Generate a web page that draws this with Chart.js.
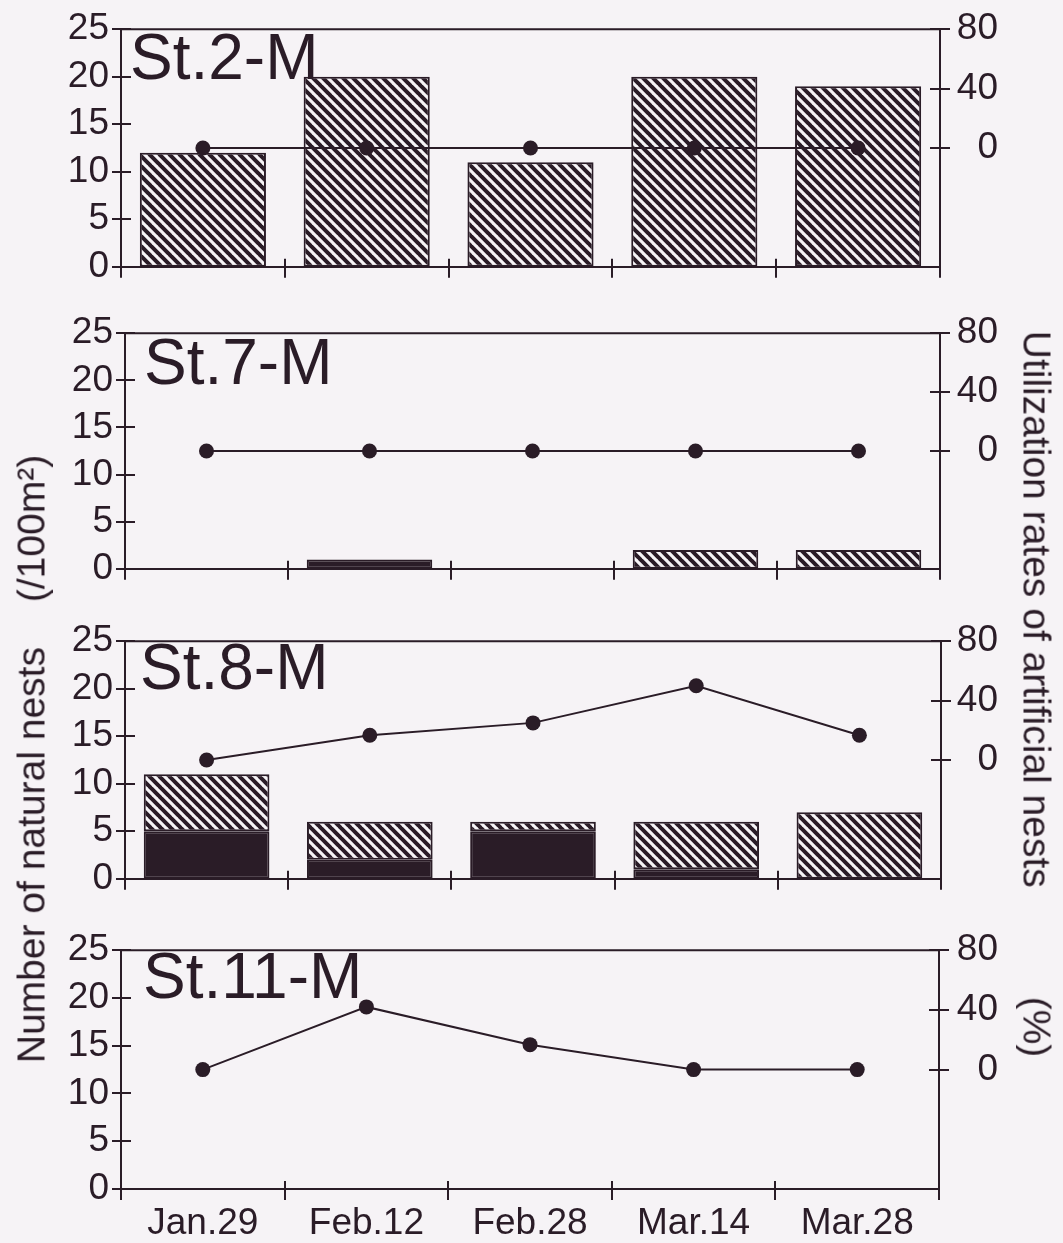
<!DOCTYPE html>
<html><head><meta charset="utf-8">
<script src="https://cdn.jsdelivr.net/npm/chart.js@4/dist/chart.umd.min.js"></script>
<style>
html,body{margin:0;padding:0;background:#f6f3f6;width:1063px;height:1243px;overflow:hidden;}
canvas{position:absolute;left:0;}
.t{position:absolute;font-family:"Liberation Sans",Arial,sans-serif;font-size:39px;color:#2a1c27;white-space:nowrap;line-height:1;}
</style></head><body>
<canvas id="c0"></canvas>
<canvas id="c1"></canvas>
<canvas id="c2"></canvas>
<canvas id="c3"></canvas>
<div class="t" style="left:31px;top:759px;transform:translate(-50%,-50%) rotate(-90deg);">Number of natural nests <span style="display:inline-block;width:34px"></span>(/100m²)</div>
<div class="t" style="left:1037px;top:694px;transform:translate(-50%,-50%) rotate(90deg);">Utilization rates  of artificial nests <span style="display:inline-block;width:98px"></span>(%)</div>
<script>
// ---- data ----
const categories = ['Jan.29', 'Feb.12', 'Feb.28', 'Mar.14', 'Mar.28'];
const panelTitles = ['St.2-M', 'St.7-M', 'St.8-M', 'St.11-M'];
const leftTickStep = 5;   // natural nests axis 0..25
const rightTickLabels = [0, 40, 80]; // utilization axis labels

// natural nests (/100m2): solid (black) part and hatched part
const st2Solid   = [0, 0, 0, 0, 0];
const st2Hatched = [12, 20, 11, 20, 19];
const st7Solid   = [0, 1, 0, 0, 0];
const st7Hatched = [0, 0, 0, 2, 2];
const st8Solid   = [5, 2, 5, 1, 0];
const st8Hatched = [6, 4, 1, 5, 7];
const st11Solid   = [0, 0, 0, 0, 0];
const st11Hatched = [0, 0, 0, 0, 0];

// utilization rates of artificial nests (%)
const st2Rate  = [0, 0, 0, 0, 0];
const st7Rate  = [0, 0, 0, 0, 0];
const st8Rate  = [0, 16.7, 25, 50, 16.7];
const st11Rate = [0, 42, 16.7, 0, 0];

// ---- style / layout ----
const INK = '#2a1c27', BG = '#f6f3f6';
const FONT = '"Liberation Sans", Arial, sans-serif';
const W = 1063, PADT = 30, PADB = 30, PADR = 65, XH = 62;

const panels = [
  {id:'c0', title:panelTitles[0], solid:st2Solid,  hatched:st2Hatched,  rate:st2Rate,  top:25,  h:246, left:121, right:940, tdx:9,  tdy:50, showX:false},
  {id:'c1', title:panelTitles[1], solid:st7Solid,  hatched:st7Hatched,  rate:st7Rate,  top:329, h:244, left:125, right:940, tdx:19, tdy:51, showX:false},
  {id:'c2', title:panelTitles[2], solid:st8Solid,  hatched:st8Hatched,  rate:st8Rate,  top:637, h:246, left:125, right:941, tdx:15, tdy:48, showX:false},
  {id:'c3', title:panelTitles[3], solid:st11Solid, hatched:st11Hatched, rate:st11Rate, top:946, h:243, left:121, right:939, tdx:22, tdy:48, showX:true}
];

function makeHatch(ctx) {
  const P = 10;
  const c = document.createElement('canvas');
  c.width = P; c.height = P;
  const g = c.getContext('2d');
  g.fillStyle = BG; g.fillRect(0, 0, P, P);
  g.strokeStyle = INK; g.lineWidth = 4;
  g.beginPath();
  for (let k = -1; k <= 1; k++) { g.moveTo(k * P - 1, -1); g.lineTo(k * P + P + 1, P + 1); }
  g.stroke();
  return ctx.createPattern(c, 'repeat');
}

const frameTicks = {
  id: 'frameTicks',
  afterDraw(chart, args, opts) {
    const {ctx, chartArea: a, scales} = chart;
    ctx.save();
    ctx.strokeStyle = INK; ctx.lineWidth = 2;
    ctx.beginPath();
    ctx.moveTo(a.left, a.top); ctx.lineTo(a.right, a.top);
    scales.y.ticks.forEach(t => {
      const py = Math.round(scales.y.getPixelForValue(t.value));
      ctx.moveTo(a.left - 9, py); ctx.lineTo(a.left + 10, py);
    });
    scales.y2.ticks.forEach(t => {
      const py = Math.round(scales.y2.getPixelForValue(t.value));
      ctx.moveTo(a.right - 10, py); ctx.lineTo(a.right + 10, py);
    });
    const n = scales.x.ticks.length;
    for (let i = 0; i <= n; i++) {
      const px = Math.round(scales.x.getPixelForValue(i - 0.5));
      ctx.moveTo(px, a.bottom - 8); ctx.lineTo(px, a.bottom + 11);
    }
    ctx.stroke();
    ctx.fillStyle = INK;
    ctx.font = '64px ' + FONT;
    ctx.textBaseline = 'alphabetic';
    ctx.textAlign = 'left';
    ctx.fillText(opts.text, a.left + opts.dx, a.top + opts.dy);
    ctx.restore();
  }
};

panels.forEach(p => {
  const xh = p.showX ? XH : 0;
  const padB = p.showX ? 0 : PADB;
  const canvasTop = p.top - PADT;
  const H = PADT + p.h + xh + padB;
  const cv = document.getElementById(p.id);
  cv.width = W; cv.height = H;
  cv.style.top = canvasTop + 'px';
  cv.style.width = W + 'px'; cv.style.height = H + 'px';
  const ctx = cv.getContext('2d');
  const hatch = makeHatch(ctx);
  new Chart(ctx, {
    type: 'bar',
    data: {
      labels: categories,
      datasets: [
        {type:'line', data:p.rate, yAxisID:'y2', borderColor:INK, borderWidth:2,
         pointRadius:7.5, pointHoverRadius:7.5, pointBackgroundColor:INK, pointBorderColor:INK,
         pointBorderWidth:0, tension:0, order:0},
        {type:'bar', data:p.solid, yAxisID:'y', stack:'n', backgroundColor:INK, borderColor:INK,
         borderWidth:2, borderSkipped:false, barPercentage:0.77, categoryPercentage:1, order:1},
        {type:'bar', data:p.hatched, yAxisID:'y', stack:'n', backgroundColor:hatch, borderColor:INK,
         borderWidth:2, borderSkipped:false, barPercentage:0.77, categoryPercentage:1, order:1}
      ]
    },
    options: {
      responsive: false, animation: false, devicePixelRatio: 1, events: [],
      layout: {padding: {top: PADT, bottom: padB, left: 0, right: PADR}},
      plugins: {legend:{display:false}, tooltip:{enabled:false}, title:{display:false},
                frameTicks: {text: p.title, dx: p.tdx, dy: p.tdy}},
      scales: {
        x: {type:'category', offset:true, stacked:true,
            grid:{display:false, drawTicks:false},
            border:{display:true, color:INK, width:2},
            ticks:{display:p.showX, color:INK, font:{family:FONT, size:37}, padding:13, maxRotation:0, autoSkip:false},
            afterFit(s){ s.height = xh; }},
        y: {type:'linear', position:'left', min:0, max:25, stacked:true,
            grid:{display:false, drawTicks:false},
            border:{display:true, color:INK, width:2},
            ticks:{stepSize:leftTickStep, color:INK, font:{family:FONT, size:37}, padding:12},
            afterFit(s){ s.width = p.left; }},
        y2: {type:'linear', position:'right', min:-80, max:80,
            grid:{display:false, drawTicks:false},
            border:{display:true, color:INK, width:2},
            ticks:{stepSize:40, color:INK, font:{family:FONT, size:37}, crossAlign:'far'},
            afterBuildTicks(s){ s.ticks = s.ticks.filter(t => rightTickLabels.includes(t.value)); },
            afterFit(s){ s.width = W - PADR - p.right; }}
      }
    },
    plugins: [frameTicks]
  });
});
</script>
</body></html>
